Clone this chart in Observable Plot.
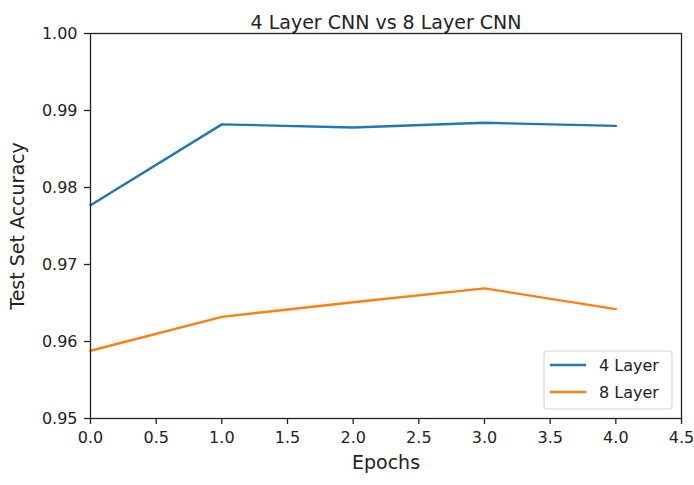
<!DOCTYPE html>
<html>
<head>
<meta charset="utf-8">
<script src="https://cdn.jsdelivr.net/npm/d3@7"></script>
<script src="https://cdn.jsdelivr.net/npm/@observablehq/plot@0.6"></script>
<style>
  html, body { margin: 0; padding: 0; background: #fff; }
  #chart { position: relative; width: 694px; height: 485px; }
  svg { font-family: "DejaVu Sans", sans-serif; }
</style>
</head>
<body>
<div id="chart"></div>
<script>
const epochs = [0, 1, 2, 3, 4];
const layer4 = [0.9777, 0.9882, 0.9878, 0.9884, 0.9880];
const layer8 = [0.9588, 0.9632, 0.9651, 0.9669, 0.9642];
const seriesNames = ["4 Layer", "8 Layer"];
const seriesColors = ["#1f77b4", "#ff7f0e"];
const xTicks = [0, 0.5, 1, 1.5, 2, 2.5, 3, 3.5, 4, 4.5];
const yTicks = [0.95, 0.96, 0.97, 0.98, 0.99, 1.00];
const titleText = "4 Layer CNN vs 8 Layer CNN";
const xLabel = "Epochs";
const yLabel = "Test Set Accuracy";

const data = [
  ...epochs.map((e, i) => ({epoch: e, acc: layer4[i], series: seriesNames[0]})),
  ...epochs.map((e, i) => ({epoch: e, acc: layer8[i], series: seriesNames[1]}))
];

const ink = "#222";
const plot = Plot.plot({
  width: 694,
  height: 485,
  marginLeft: 90,
  marginRight: 13,
  marginTop: 33,
  marginBottom: 67,
  style: {fontFamily: "'DejaVu Sans', sans-serif", fontSize: "16px", color: ink, background: "#fff"},
  x: {domain: [0, 4.5]},
  y: {domain: [0.95, 1.0]},
  color: {domain: seriesNames, range: seriesColors},
  marks: [
    Plot.axisX({ticks: xTicks, tickFormat: d3.format(".1f"), tickSize: 6, tickPadding: 7, label: null, fontSize: 16, strokeWidth: 1.3}),
    Plot.axisY({ticks: yTicks, tickFormat: d3.format(".2f"), tickSize: 6, tickPadding: 7, label: null, fontSize: 16, strokeWidth: 1.3}),
    Plot.line(data, {x: "epoch", y: "acc", stroke: "series", strokeWidth: 2.4, strokeLinejoin: "round"}),
    Plot.frame({stroke: ink, strokeWidth: 1.3}),
    Plot.text([titleText], {text: d => d, frameAnchor: "top", dy: -18, fontSize: 19, fill: ink}),
    Plot.text([xLabel], {text: d => d, frameAnchor: "bottom", dy: 50, fontSize: 19, fill: ink}),
    Plot.text([yLabel], {text: d => d, frameAnchor: "left", textAnchor: "middle", dx: -73, rotate: -90, fontSize: 19, fill: ink})
  ]
});

document.getElementById("chart").appendChild(plot);

// Legend (matplotlib-style, lower right)
const svg = d3.select(plot);
const lg = svg.append("g").attr("transform", "translate(544,351)").attr("text-anchor", "start");
lg.append("rect").attr("width", 128).attr("height", 58).attr("rx", 3)
  .attr("fill", "#fff").attr("fill-opacity", 0.85).attr("stroke", "#d0d0d0").attr("stroke-width", 1);
seriesNames.forEach((name, i) => {
  const y = 14 + i * 27;
  lg.append("line").attr("x1", 6).attr("x2", 42).attr("y1", y).attr("y2", y)
    .attr("stroke", seriesColors[i]).attr("stroke-width", 2.4);
  lg.append("text").attr("x", 55).attr("y", y).attr("dy", "0.35em")
    .attr("text-anchor", "start").attr("font-size", 16).attr("fill", ink).text(name);
});
</script>
</body>
</html>
